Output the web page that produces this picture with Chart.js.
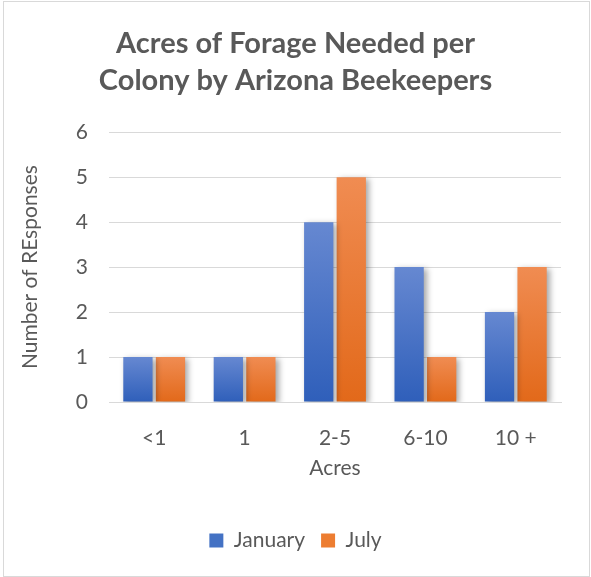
<!DOCTYPE html>
<html>
<head>
<meta charset="utf-8">
<script src="https://cdn.jsdelivr.net/npm/chart.js@4.4.0/dist/chart.umd.min.js"></script>
<style>
html,body{margin:0;padding:0;background:#fff;}
#wrap{position:relative;width:591px;height:577px;}
#frame{position:absolute;left:3px;top:1px;width:585px;height:574px;border:1px solid #d9d9d9;box-sizing:content-box;pointer-events:none;}
canvas{position:absolute;left:0;top:0;}
</style>
</head>
<body>
<div id="wrap"><canvas id="c" width="591" height="577"></canvas><div id="frame"></div></div>
<script>
const categories = ["<1", "1", "2-5", "6-10", "10 +"];
const january = [1, 1, 4, 3, 2];
const july = [1, 1, 5, 1, 3];
const yTicks = [0, 1, 2, 3, 4, 5, 6];
const titleLines = ["Acres of Forage Needed per", "Colony by Arizona Beekeepers"];

const FONT = "Lato, 'Open Sans', sans-serif";
const GREY = "#595959";
const FS = 21;

function grad(top, bottom, fallback) {
  return function (ctx) {
    const chart = ctx.chart;
    if (!chart.chartArea || ctx.type !== 'data') return fallback;
    const y = chart.scales.y;
    const yt = y.getPixelForValue(ctx.parsed.y);
    const yb = y.getPixelForValue(0);
    if (!isFinite(yt) || !isFinite(yb) || yt === yb) return fallback;
    const g = chart.ctx.createLinearGradient(0, yt, 0, yb);
    g.addColorStop(0, top);
    g.addColorStop(1, bottom);
    return g;
  };
}

const shadowPlugin = {
  id: 'shadow',
  beforeDatasetsDraw(chart) {
    const c = chart.ctx;
    c.save();
    c.shadowColor = 'rgba(0,0,0,0.35)';
    c.shadowBlur = 6;
    c.shadowOffsetX = 3;
    c.shadowOffsetY = 2;
  },
  afterDatasetsDraw(chart) {
    chart.ctx.restore();
  }
};

new Chart(document.getElementById('c'), {
  type: 'bar',
  data: {
    labels: categories,
    datasets: [
      { label: 'January', data: january, backgroundColor: grad('#6688d1', '#2f5fba', '#4472c4') },
      { label: 'July', data: july, backgroundColor: grad('#f08c52', '#e2691a', '#ed7d31') }
    ]
  },
  plugins: [shadowPlugin],
  options: {
    responsive: false,
    animation: false,
    devicePixelRatio: 1,
    layout: { padding: { left: 30, right: 30, top: 0, bottom: 16 } },
    datasets: { bar: { categoryPercentage: 0.72, barPercentage: 0.9 } },
    plugins: {
      title: {
        display: true,
        text: titleLines,
        color: GREY,
        font: { family: FONT, size: 29, weight: 'bold', lineHeight: 1.28 },
        padding: { top: 25, bottom: 33 }
      },
      legend: {
        position: 'bottom',
        labels: {
          color: GREY,
          font: { family: FONT, size: FS },
          boxWidth: 14,
          boxHeight: 14,
          padding: 16,
          generateLabels(chart) {
            const cols = ['#4472c4', '#ed7d31'];
            return chart.data.datasets.map((d, i) => ({
              text: d.label, fillStyle: cols[i], strokeStyle: cols[i], lineWidth: 0,
              datasetIndex: i, fontColor: GREY
            }));
          }
        }
      },
      tooltip: { enabled: false }
    },
    scales: {
      x: {
        afterFit(axis) { axis.height = 112; },
        grid: { display: false, drawTicks: false },
        border: { display: true, color: '#d9d9d9', width: 1 },
        ticks: { color: GREY, font: { family: FONT, size: FS }, padding: 24 },
        title: { display: true, text: 'Acres', color: GREY, font: { family: FONT, size: FS }, padding: { top: 5, bottom: 33 } }
      },
      y: {
        min: 0, max: 6,
        afterBuildTicks(axis) { axis.ticks = yTicks.map(v => ({ value: v })); },
        afterFit(axis) { axis.width = 79; },
        grid: { color: '#d9d9d9', lineWidth: 1, drawTicks: false },
        border: { display: false },
        ticks: { color: GREY, font: { family: FONT, size: FS }, padding: 21 },
        title: { display: true, text: 'Number of REsponses', color: GREY, font: { family: FONT, size: FS }, padding: { top: -12, bottom: 10 } }
      }
    }
  }
});
</script>
</body>
</html>
